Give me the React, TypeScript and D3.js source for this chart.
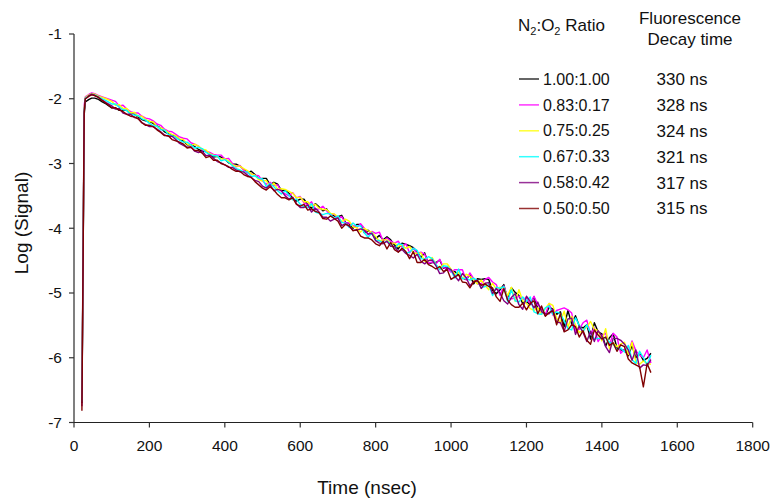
import * as d3 from 'd3'

const timeNs = [
  21, 24, 27, 30, 35, 40, 47, 55, 65, 75, 85,
  100, 110, 120, 130, 140, 150, 160, 170, 180, 190, 200, 210, 220, 230, 240, 250, 260, 270, 280, 290,
  300, 310, 320, 330, 340, 350, 360, 370, 380, 390, 400, 410, 420, 430, 440, 450, 460, 470, 480, 490,
  500, 510, 520, 530, 540, 550, 560, 570, 580, 590, 600, 610, 620, 630, 640, 650, 660, 670, 680, 690,
  700, 710, 720, 730, 740, 750, 760, 770, 780, 790, 800, 810, 820, 830, 840, 850, 860, 870, 880, 890,
  900, 910, 920, 930, 940, 950, 960, 970, 980, 990, 1000, 1010, 1020, 1030, 1040, 1050, 1060, 1070,
  1080, 1090, 1100, 1110, 1120, 1130, 1140, 1150, 1160, 1170, 1180, 1190, 1200, 1210, 1220, 1230,
  1240, 1250, 1260, 1270, 1280, 1290, 1300, 1310, 1320, 1330, 1340, 1350, 1360, 1370, 1380, 1390,
  1400, 1410, 1420, 1430, 1440, 1450, 1460, 1470, 1480, 1490, 1500, 1510, 1520, 1530,
]

// log signal, one array per N2:O2 ratio
const ratio100 = [
  -6.7, -4.6, -2.25, -2.05, -2.03, -2.01, -1.99, -1.99, -2.01, -2.05, -2.08,
  -2.14, -2.14, -2.18, -2.18, -2.18, -2.23, -2.24, -2.28, -2.32, -2.34,
  -2.35, -2.38, -2.42, -2.45, -2.51, -2.54, -2.57, -2.57, -2.63, -2.65,
  -2.71, -2.71, -2.74, -2.78, -2.81, -2.81, -2.86, -2.9, -2.89, -2.9,
  -2.93, -2.99, -3.01, -3.01, -3.04, -3.09, -3.14, -3.12, -3.17, -3.24,
  -3.23, -3.23, -3.33, -3.29, -3.32, -3.42, -3.41, -3.46, -3.54, -3.58,
  -3.55, -3.55, -3.64, -3.69, -3.62, -3.67, -3.73, -3.7, -3.79, -3.81,
  -3.82, -3.8, -3.91, -3.93, -4.0, -3.94, -3.94, -4.07, -4.03, -4.08,
  -4.16, -4.11, -4.18, -4.13, -4.18, -4.26, -4.32, -4.23, -4.25, -4.27,
  -4.3, -4.36, -4.45, -4.38, -4.55, -4.53, -4.53, -4.49, -4.62, -4.59,
  -4.66, -4.67, -4.72, -4.77, -4.79, -4.72, -4.86, -4.78, -4.79, -4.78,
  -4.79, -4.96, -5.01, -4.95, -4.87, -5.1, -4.92, -4.99, -5.04, -5.16,
  -5.13, -5.18, -5.06, -5.24, -5.25, -5.35, -5.22, -5.25, -5.33, -5.29,
  -5.52, -5.27, -5.48, -5.35, -5.51, -5.54, -5.49, -5.71, -5.46, -5.6,
  -5.63, -5.82, -5.69, -5.63, -5.85, -5.88, -5.88, -5.97, -5.81, -6.0,
  -5.93, -6.04, -6.01, -5.93,
]
const ratio083 = [
  -6.6, -4.4, -2.1, -1.97, -1.95, -1.93, -1.91, -1.92, -1.95, -1.97, -1.99,
  -2.02, -2.04, -2.11, -2.1, -2.16, -2.2, -2.22, -2.22, -2.27, -2.3,
  -2.31, -2.34, -2.39, -2.41, -2.47, -2.5, -2.51, -2.55, -2.59, -2.61,
  -2.62, -2.68, -2.7, -2.73, -2.79, -2.81, -2.83, -2.86, -2.87, -2.87,
  -2.93, -2.92, -3.0, -3.05, -3.03, -3.1, -3.14, -3.16, -3.18, -3.19,
  -3.27, -3.32, -3.29, -3.34, -3.33, -3.43, -3.47, -3.5, -3.45, -3.53,
  -3.51, -3.61, -3.64, -3.59, -3.71, -3.7, -3.66, -3.73, -3.79, -3.78,
  -3.85, -3.82, -3.92, -3.92, -3.96, -3.99, -3.93, -4.0, -4.1, -4.05,
  -4.08, -4.06, -4.2, -4.15, -4.2, -4.23, -4.2, -4.29, -4.24, -4.38,
  -4.31, -4.39, -4.37, -4.4, -4.54, -4.52, -4.55, -4.48, -4.61, -4.62,
  -4.68, -4.64, -4.64, -4.64, -4.8, -4.69, -4.78, -4.86, -4.86, -4.79,
  -4.76, -4.83, -4.87, -5.04, -4.89, -5.07, -5.09, -5.08, -5.05, -5.1,
  -5.07, -5.17, -5.05, -5.18, -5.24, -5.34, -5.16, -5.34, -5.27, -5.25,
  -5.23, -5.26, -5.31, -5.59, -5.56, -5.46, -5.42, -5.64, -5.54, -5.75,
  -5.66, -5.62, -5.81, -5.62, -5.68, -5.93, -5.87, -5.93, -5.74, -5.89,
  -5.96, -6.0, -5.88, -6.08,
]
const ratio075 = [
  -6.65, -4.45, -2.15, -1.98, -1.96, -1.94, -1.92, -1.93, -1.96, -1.98, -2.0,
  -2.04, -2.1, -2.09, -2.15, -2.15, -2.22, -2.21, -2.27, -2.27, -2.32,
  -2.35, -2.36, -2.43, -2.45, -2.48, -2.52, -2.55, -2.57, -2.62, -2.63,
  -2.7, -2.72, -2.7, -2.73, -2.78, -2.79, -2.85, -2.87, -2.89, -2.93,
  -2.93, -2.96, -3.02, -3.04, -3.04, -3.08, -3.11, -3.16, -3.18, -3.25,
  -3.27, -3.26, -3.37, -3.3, -3.4, -3.39, -3.4, -3.43, -3.46, -3.53,
  -3.52, -3.59, -3.59, -3.66, -3.63, -3.69, -3.71, -3.71, -3.77, -3.78,
  -3.82, -3.9, -3.86, -3.89, -3.98, -3.99, -4.06, -4.0, -4.04, -4.06,
  -4.13, -4.2, -4.18, -4.18, -4.23, -4.23, -4.28, -4.26, -4.31, -4.28,
  -4.38, -4.39, -4.38, -4.51, -4.51, -4.45, -4.57, -4.62, -4.55, -4.55,
  -4.63, -4.71, -4.68, -4.78, -4.71, -4.74, -4.8, -4.86, -4.8, -4.88,
  -4.95, -4.85, -4.94, -4.91, -4.93, -5.04, -4.91, -5.13, -4.95, -5.12,
  -5.16, -5.24, -5.27, -5.23, -5.33, -5.24, -5.16, -5.19, -5.39, -5.45,
  -5.28, -5.53, -5.36, -5.49, -5.61, -5.58, -5.53, -5.44, -5.56, -5.58,
  -5.74, -5.55, -5.86, -5.77, -5.83, -5.79, -5.76, -5.95, -5.76, -6.07,
  -6.1, -6.05, -6.09, -6.1,
]
const ratio067 = [
  -6.68, -4.5, -2.18, -1.99, -1.97, -1.95, -1.93, -1.94, -1.97, -2.0, -2.03,
  -2.08, -2.08, -2.13, -2.17, -2.18, -2.24, -2.25, -2.26, -2.31, -2.33,
  -2.38, -2.42, -2.42, -2.48, -2.48, -2.55, -2.57, -2.6, -2.64, -2.67,
  -2.67, -2.71, -2.76, -2.75, -2.77, -2.83, -2.86, -2.88, -2.88, -2.96,
  -2.94, -2.98, -3.03, -3.08, -3.1, -3.13, -3.13, -3.2, -3.19, -3.23,
  -3.24, -3.36, -3.31, -3.36, -3.42, -3.47, -3.42, -3.49, -3.56, -3.55,
  -3.63, -3.67, -3.68, -3.62, -3.75, -3.77, -3.79, -3.77, -3.78, -3.85,
  -3.81, -3.91, -3.92, -3.99, -3.92, -3.97, -3.96, -4.07, -4.14, -4.07,
  -4.19, -4.19, -4.23, -4.2, -4.24, -4.32, -4.24, -4.25, -4.39, -4.37,
  -4.31, -4.34, -4.47, -4.48, -4.44, -4.47, -4.56, -4.64, -4.58, -4.59,
  -4.65, -4.77, -4.63, -4.78, -4.77, -4.8, -4.77, -4.81, -4.92, -4.9,
  -4.87, -5.04, -4.91, -4.93, -4.9, -5.13, -4.95, -5.12, -5.14, -5.06,
  -5.13, -5.06, -5.29, -5.32, -5.33, -5.23, -5.2, -5.33, -5.29, -5.32,
  -5.43, -5.55, -5.57, -5.38, -5.5, -5.6, -5.49, -5.62, -5.71, -5.7,
  -5.7, -5.69, -5.76, -5.79, -5.88, -5.85, -5.91, -5.81, -6.03, -6.09,
  -5.9, -6.0, -6.11, -5.96,
]
const ratio058 = [
  -6.75, -4.55, -2.2, -2.0, -1.98, -1.95, -1.93, -1.95, -1.98, -2.02, -2.06,
  -2.11, -2.16, -2.15, -2.22, -2.24, -2.24, -2.29, -2.3, -2.37, -2.4,
  -2.43, -2.43, -2.47, -2.51, -2.56, -2.58, -2.58, -2.63, -2.69, -2.72,
  -2.75, -2.74, -2.81, -2.83, -2.81, -2.88, -2.87, -2.92, -2.97, -2.99,
  -3.02, -3.06, -3.06, -3.1, -3.13, -3.13, -3.18, -3.22, -3.26, -3.28,
  -3.35, -3.38, -3.33, -3.42, -3.4, -3.42, -3.5, -3.55, -3.52, -3.62,
  -3.68, -3.68, -3.64, -3.75, -3.69, -3.75, -3.83, -3.83, -3.89, -3.86,
  -3.84, -3.96, -3.93, -3.97, -4.03, -4.03, -4.01, -4.03, -4.09, -4.08,
  -4.19, -4.23, -4.24, -4.2, -4.28, -4.28, -4.36, -4.33, -4.39, -4.42,
  -4.46, -4.4, -4.51, -4.55, -4.5, -4.49, -4.58, -4.7, -4.69, -4.61,
  -4.64, -4.74, -4.81, -4.7, -4.76, -4.89, -4.82, -4.8, -4.93, -4.85,
  -4.84, -5.01, -4.93, -5.0, -5.12, -5.17, -5.07, -5.01, -5.18, -5.25,
  -5.05, -5.13, -5.23, -5.14, -5.29, -5.32, -5.32, -5.25, -5.45, -5.46,
  -5.59, -5.4, -5.39, -5.64, -5.51, -5.61, -5.75, -5.59, -5.75, -5.58,
  -5.67, -5.83, -5.92, -5.7, -5.7, -5.73, -5.79, -5.88, -6.04, -5.88,
  -6.16, -6.11, -6.12, -6.03,
]
const ratio050 = [
  -6.82, -4.6, -2.22, -2.0, -1.98, -1.96, -1.94, -1.95, -1.98, -2.03, -2.07,
  -2.14, -2.14, -2.17, -2.2, -2.24, -2.27, -2.28, -2.31, -2.37, -2.41,
  -2.41, -2.43, -2.48, -2.52, -2.57, -2.57, -2.63, -2.65, -2.67, -2.7,
  -2.76, -2.75, -2.8, -2.8, -2.84, -2.91, -2.89, -2.95, -2.95, -3.0,
  -3.02, -3.05, -3.09, -3.12, -3.12, -3.17, -3.2, -3.21, -3.28, -3.33,
  -3.38, -3.41, -3.36, -3.41, -3.48, -3.53, -3.53, -3.56, -3.53, -3.63,
  -3.66, -3.63, -3.72, -3.7, -3.74, -3.76, -3.85, -3.86, -3.81, -3.85,
  -3.89, -4.0, -3.94, -3.96, -4.04, -4.02, -4.12, -4.15, -4.15, -4.18,
  -4.24, -4.27, -4.2, -4.32, -4.22, -4.33, -4.37, -4.31, -4.36, -4.47,
  -4.36, -4.53, -4.53, -4.48, -4.56, -4.59, -4.63, -4.59, -4.67, -4.64,
  -4.79, -4.75, -4.72, -4.83, -4.84, -4.92, -4.83, -4.81, -4.88, -4.86,
  -4.9, -4.92, -5.06, -5.13, -4.93, -5.11, -5.18, -5.22, -5.22, -5.16,
  -5.26, -5.16, -5.12, -5.32, -5.2, -5.36, -5.3, -5.28, -5.49, -5.32,
  -5.6, -5.57, -5.49, -5.52, -5.68, -5.58, -5.73, -5.79, -5.57, -5.65,
  -5.71, -5.68, -5.81, -5.77, -5.9, -5.8, -5.83, -6.02, -6.08, -6.11,
  -6.14, -6.45, -6.09, -6.23,
]

const ratioLabels = ['1.00:1.00', '0.83:0.17', '0.75:0.25', '0.67:0.33', '0.58:0.42', '0.50:0.50']
const decayLabels = ['330 ns', '328 ns', '324 ns', '321 ns', '317 ns', '315 ns']
const seriesColors = ['#000000', '#ff00ff', '#ffff00', '#00ffff', '#800080', '#800000']
const seriesValues = [ratio100, ratio083, ratio075, ratio067, ratio058, ratio050]

const xTicks = [0, 200, 400, 600, 800, 1000, 1200, 1400, 1600, 1800]
const yTicks = [-1, -2, -3, -4, -5, -6, -7]

const font = '"Liberation Sans", Arial, sans-serif'

const App = () => {
  const width = 773
  const height = 501
  const left = 74
  const right = 752.7
  const top = 34
  const bottom = 422.5

  const xScale = d3.scaleLinear().domain([0, 1800]).range([left, right])
  const yScale = d3.scaleLinear().domain([-7, -1]).range([bottom, top])

  const lineGenerator = d3
    .line<number>()
    .x((d, i) => xScale(timeNs[i]))
    .y((d) => yScale(d))

  const legendRowY = d3.scaleLinear().domain([0, 5]).range([79, 208.5])

  return (
    <svg
      width={width}
      height={height}
      style={{ position: 'absolute', left: 0, top: 0, background: '#fff' }}
      fontFamily={font}
    >
      {seriesValues.map((values, i) => (
        <path
          key={ratioLabels[i]}
          d={lineGenerator(values) ?? ''}
          fill="none"
          stroke={seriesColors[i]}
          strokeWidth={1.4}
          strokeLinejoin="round"
        />
      ))}

      <line x1={left} x2={left} y1={top} y2={bottom} stroke="#555" strokeWidth={1.5} />
      <line x1={left} x2={right} y1={bottom} y2={bottom} stroke="#222" strokeWidth={1.2} />

      {yTicks.map((t) => (
        <g key={t} transform={`translate(0, ${yScale(t)})`}>
          <line x1={left - 5} x2={left} stroke="#333" strokeWidth={1.2} />
          <text x={62} dy="0.35em" textAnchor="end" fontSize={15.5} fill="#111">
            {t}
          </text>
        </g>
      ))}

      {xTicks.map((t) => (
        <g key={t} transform={`translate(${xScale(t)}, 0)`}>
          <line y1={bottom} y2={bottom + 5} stroke="#333" strokeWidth={1.2} />
          <text y={451} textAnchor="middle" fontSize={15.5} fill="#111">
            {t}
          </text>
        </g>
      ))}

      <text x={367} y={494} textAnchor="middle" fontSize={19} fill="#111">
        Time (nsec)
      </text>
      <text
        transform="translate(28, 223) rotate(-90)"
        textAnchor="middle"
        fontSize={19}
        fill="#111"
      >
        Log (Signal)
      </text>

      <text x={518} y={31} fontSize={17} fill="#111">
        N<tspan fontSize={11} dy={4}>2</tspan>
        <tspan dy={-4}>:O</tspan>
        <tspan fontSize={11} dy={4}>2</tspan>
        <tspan dy={-4}> Ratio</tspan>
      </text>
      <text x={690} y={24} textAnchor="middle" fontSize={17} fill="#111">
        Fluorescence
      </text>
      <text x={690} y={45} textAnchor="middle" fontSize={17} fill="#111">
        Decay time
      </text>

      {ratioLabels.map((label, i) => (
        <g key={label} transform={`translate(0, ${legendRowY(i)})`}>
          <line x1={519} x2={539} stroke={seriesColors[i]} strokeWidth={1.5} opacity={0.8} />
          <text x={543} dy="0.35em" fontSize={16} fill="#111">
            {label}
          </text>
          <text x={682} dy="0.35em" textAnchor="middle" fontSize={17} fill="#111">
            {decayLabels[i]}
          </text>
        </g>
      ))}
    </svg>
  )
}

export default App
